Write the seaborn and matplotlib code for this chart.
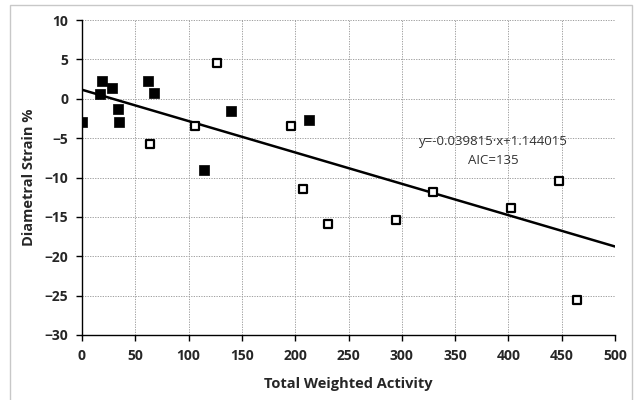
import matplotlib
matplotlib.use("Agg")
import matplotlib.pyplot as plt
from matplotlib.patches import Rectangle
import seaborn as sns
import numpy as np
import pandas as pd

# filled squares
filled_x = [0, 17, 19, 28, 33.5, 35, 61.5, 68, 114, 140, 213]
filled_y = [-2.9, 0.6, 2.3, 1.4, -1.25, -2.95, 2.3, 0.75, -9.0, -1.6, -2.7]
# open squares
open_x = [64, 106, 126.5, 196, 207.5, 230.5, 294.5, 329, 402.5, 447, 464.5]
open_y = [-5.75, -3.5, 4.5, -3.4, -11.5, -15.9, -15.4, -11.9, -13.9, -10.4, -25.5]

slope = -0.039815
intercept = 1.144015
aic = 135

df_f = pd.DataFrame({"x": filled_x, "y": filled_y})
df_o = pd.DataFrame({"x": open_x, "y": open_y})

sns.set_theme(style="white")
plt.rcParams['font.family'] = ['Open Sans', 'DejaVu Sans']

fig = plt.figure(figsize=(6.37, 4.0), dpi=100)
fig.patches.append(Rectangle((10/637, -0.05), 622/637, 1.05 - 5/400,
                             transform=fig.transFigure, fill=False,
                             edgecolor="#c8c8c8", linewidth=1.0))
ax = fig.add_axes([82/637, 1 - 335/400, (615 - 82)/637, (335 - 20)/400])

xs = np.array([0, 500])
fit = pd.DataFrame({"x": xs, "y": slope * xs + intercept})
sns.lineplot(data=fit, x="x", y="y", ax=ax, color="black", linewidth=1.8, zorder=3)

sns.scatterplot(data=df_f, x="x", y="y", ax=ax, marker="s", s=45,
                color="black", edgecolor="black", linewidth=0.5, zorder=4)
sns.scatterplot(data=df_o, x="x", y="y", ax=ax, marker="s", s=40,
                facecolor="white", edgecolor="black", linewidth=1.6, zorder=4)

ax.set_xlim(0, 500)
ax.set_ylim(-30, 10)
ax.set_xticks(range(0, 501, 50))
ax.set_yticks(range(-30, 11, 5))
ax.grid(True, color="#a0a0a0", linestyle=(0, (1.3, 1.3)), linewidth=0.7)
for s in ["top", "right"]:
    ax.spines[s].set_visible(False)
for s in ["left", "bottom"]:
    ax.spines[s].set_color("black")
    ax.spines[s].set_linewidth(1.0)
ax.tick_params(direction="out", length=4, width=1, color="black",
               labelsize=10, pad=6, bottom=True, left=True)
for lab in ax.get_xticklabels() + ax.get_yticklabels():
    lab.set_fontweight("bold")

ax.set_xlabel("Total Weighted Activity", fontsize=10.5, fontweight="bold", labelpad=10)
ax.set_ylabel("Diametral Strain %", fontsize=10.5, fontweight="bold", labelpad=6)

ax.text(386, -5.4, "y=%.6f·x+%.6f" % (slope, intercept), ha="center", va="center",
        fontsize=9.5, color="#333333")
ax.text(386, -7.8, "AIC=%d" % aic, ha="center", va="center",
        fontsize=9.5, color="#333333")

fig.savefig("out.png", dpi=100)
